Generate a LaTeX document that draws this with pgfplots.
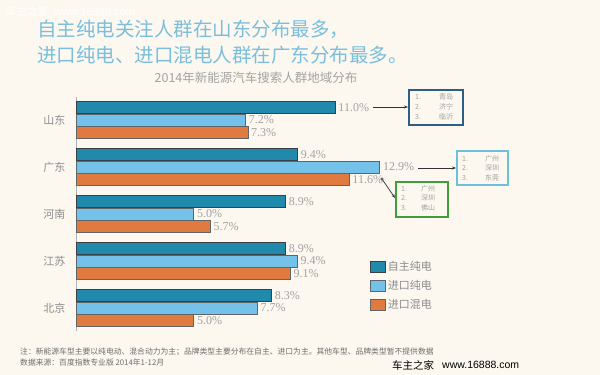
\documentclass[border=0pt]{standalone}
\usepackage{pgfplots}
\pgfplotsset{compat=1.18}
\usepackage{fontspec}
\setmainfont{Noto Sans CJK SC}
\newfontfamily\numfont{Liberation Serif}
\newfontfamily\urlfont{Liberation Sans}
\usetikzlibrary{arrows.meta}
\definecolor{bg}{HTML}{FCF8F0}
\definecolor{c1}{HTML}{2189AC}
\definecolor{c2}{HTML}{74C2EA}
\definecolor{c3}{HTML}{E07A3E}
\definecolor{edge}{HTML}{3A3F42}
\definecolor{ttl}{HTML}{7ABEDC}
\definecolor{tick}{HTML}{8C8C8C}
\definecolor{val}{HTML}{A2A2A2}
\definecolor{note}{HTML}{6E6E6E}
\definecolor{b1}{HTML}{2E5E86}
\definecolor{b2}{HTML}{6CC0DA}
\definecolor{b3}{HTML}{3E9E3A}
\begin{document}
\begin{tikzpicture}[x=1pt,y=1pt]
\fill[bg] (0,0) rectangle (600,375);
% watermark
\node[anchor=west,inner sep=0,text=white,font=\fontsize{11}{11}\selectfont] at (5,364) {车主之家\ \ \urlfont www.16888.com};
% titles
\node[anchor=west,inner sep=0,text=ttl,font=\fontsize{19.5}{19.5}\selectfont] at (37,346) {自主纯电关注人群在山东分布最多，};
\node[anchor=west,inner sep=0,text=ttl,font=\fontsize{19.5}{19.5}\selectfont] at (37,320) {进口纯电、进口混电人群在广东分布最多。};
\node[inner sep=0,text=val,font=\fontsize{12.5}{12.5}\selectfont] at (256,297) {2014年新能源汽车搜索人群地域分布};
\begin{axis}[
  at={(76pt,43.5pt)}, anchor=south west, scale only axis,
  width=306.15pt, height=235pt,
  xmin=0, xmax=13, ymin=-0.5, ymax=4.5,
  hide x axis, axis y line*=left,
  y axis line style={draw=gray!60, line width=0.6pt},
  ytick={0,1,2,3,4}, yticklabels={北京,江苏,河南,广东,山东},
  major tick length=0pt,
  yticklabel style={font=\fontsize{11}{11}\selectfont, text=tick, xshift=-7pt},
  xbar, bar width=12pt, clip=false,
  point meta=x,
  nodes near coords={\pgfmathprintnumber[fixed,fixed zerofill,precision=1,assume math mode=true]{\pgfplotspointmeta}\%},
  nodes near coords style={anchor=west, text=val, font=\numfont\fontsize{12}{12}\selectfont, inner sep=3pt},
  legend image code/.code={\draw[#1] (0pt,-5.5pt) rectangle (15pt,5.5pt);},
  legend style={at={(axis description cs:0.960,0.3085)}, anchor=north west, draw=none, fill=none,
    font=\fontsize{11}{11}\selectfont, text=tick, row sep=4.5pt, inner sep=0pt},
  legend cell align=left,
]
\addplot[fill=c1, draw=edge, line width=0.8pt, bar shift=12.6pt] coordinates {(11.0,4) (9.4,3) (8.9,2) (8.9,1) (8.3,0)};
\addplot[fill=c2, draw=edge!80, line width=0.6pt, bar shift=0pt] coordinates {(7.2,4) (12.9,3) (5.0,2) (9.4,1) (7.7,0)};
\addplot[fill=c3, draw=edge!80, line width=0.6pt, bar shift=-12.6pt] coordinates {(7.3,4) (11.6,3) (5.7,2) (9.1,1) (5.0,0)};
\legend{自主纯电,进口纯电,进口混电}
\end{axis}
% callout boxes
\draw[b1, line width=1.5pt] (409,285) rectangle (463,250);
\draw[black!80, line width=0.7pt, -{Stealth[length=4pt]}] (373,268) -- (408,268);
\begin{scope}[font=\fontsize{7}{7}\selectfont, text=val]
\node[anchor=west,inner sep=0] at (415,278) {1.};
\node[anchor=west,inner sep=0] at (415,268) {2.};
\node[anchor=west,inner sep=0] at (415,258) {3.};
\node[inner sep=0] at (446,278) {青岛};
\node[inner sep=0] at (446,268) {济宁};
\node[inner sep=0] at (446,258) {临沂};
\end{scope}
\draw[b2, line width=1.5pt] (457,224) rectangle (508,190);
\draw[black!80, line width=0.7pt, -{Stealth[length=4pt]}] (418,207) -- (456,207);
\begin{scope}[font=\fontsize{7}{7}\selectfont, text=val]
\node[anchor=west,inner sep=0] at (462,216) {1.};
\node[anchor=west,inner sep=0] at (462,207) {2.};
\node[anchor=west,inner sep=0] at (462,197) {3.};
\node[inner sep=0] at (492,216) {广州};
\node[inner sep=0] at (492,207) {深圳};
\node[inner sep=0] at (492,197) {东莞};
\end{scope}
\draw[b3, line width=1.5pt] (396,193) rectangle (448,158);
\draw[black!80, line width=0.7pt, -{Stealth[length=4pt]}] (382,196) -- (395,177);
\draw[black!80, line width=0.5pt, fill=bg] (382,196) circle (1.2pt);
\begin{scope}[font=\fontsize{7}{7}\selectfont, text=val]
\node[anchor=west,inner sep=0] at (401,186) {1.};
\node[anchor=west,inner sep=0] at (401,177) {2.};
\node[anchor=west,inner sep=0] at (401,167) {3.};
\node[inner sep=0] at (428,186) {广州};
\node[inner sep=0] at (428,177) {深圳};
\node[inner sep=0] at (428,167) {佛山};
\end{scope}
% footnotes
\node[anchor=west,inner sep=0,text=note,font=\fontsize{7.8}{7.8}\selectfont] at (20,23) {注：新能源车型主要以纯电动、混合动力为主；品牌类型主要分布在自主、进口为主。其他车型、品牌类型暂不提供数据};
\node[anchor=west,inner sep=0,text=note,font=\fontsize{7.8}{7.8}\selectfont] at (20,12) {数据来源：百度指数专业版\ 2014年1-12月};
\node[anchor=west,inner sep=0,font=\fontsize{10.5}{10.5}\selectfont] at (392,10) {车主之家};
\node[anchor=west,inner sep=0,font=\urlfont\fontsize{10.5}{10.5}\selectfont] at (442,10) {www.16888.com};
\end{tikzpicture}
\end{document}
